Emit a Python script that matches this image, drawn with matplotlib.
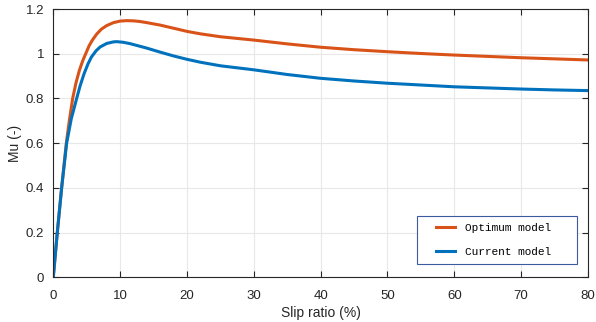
import matplotlib
matplotlib.use("Agg")
import matplotlib.pyplot as plt
from matplotlib.lines import Line2D
from matplotlib.legend_handler import HandlerLine2D
import numpy as np

# slip ratio (%) and friction coefficient
slip_opt = [0, 0.6, 1.25, 1.95, 2.4, 2.9, 3.4, 3.9, 4.4, 4.85, 5.35, 5.85, 6.5, 7.2, 8.0, 9.0,
            10.0, 11.0, 12.0, 13.0, 14.0, 16.0, 18.0, 20.0, 22.0, 25.0, 30.0, 35.0, 40.0, 45.0,
            50.0, 55.0, 60.0, 65.0, 70.0, 75.0, 80.0]
mu_opt = [0, 0.2, 0.4, 0.6, 0.7, 0.8, 0.87, 0.925, 0.968, 1.0, 1.035, 1.061, 1.088, 1.11, 1.126, 1.139,
          1.146, 1.148, 1.147, 1.144, 1.139, 1.128, 1.114, 1.10, 1.089, 1.076, 1.061, 1.044, 1.029, 1.018,
          1.009, 1.001, 0.994, 0.988, 0.982, 0.977, 0.972]

slip_cur = [0, 0.6, 1.25, 2.0, 2.7, 3.5, 4.0, 4.6, 5.2, 5.7, 6.4, 7.0, 8.0, 9.0, 9.5, 10.5, 11.5,
            12.5, 14.0, 16.0, 18.0, 20.0, 22.0, 25.0, 30.0, 35.0, 40.0, 45.0, 50.0, 55.0,
            60.0, 65.0, 70.0, 75.0, 80.0]
mu_cur = [0, 0.2, 0.4, 0.6, 0.71, 0.8, 0.855, 0.91, 0.955, 0.985, 1.013, 1.03, 1.046, 1.053, 1.054, 1.051, 1.045,
          1.037, 1.025, 1.007, 0.99, 0.975, 0.962, 0.946, 0.928, 0.907, 0.890, 0.878, 0.868, 0.86,
          0.852, 0.847, 0.842, 0.838, 0.835]

plt.rcParams['font.family'] = ['Liberation Sans', 'DejaVu Sans']

fig = plt.figure(figsize=(5.96, 3.22), dpi=100)
ax = fig.add_axes([0.0894, 0.139, 0.8972, 0.833])

ax.plot(slip_opt, mu_opt, color='#D95319', lw=2.2, label='Optimum model')
ax.plot(slip_cur, mu_cur, color='#0072BD', lw=2.2, label='Current model')

ax.set_xlim(0, 80)
ax.set_ylim(0, 1.2)
ax.set_xticks(np.arange(0, 81, 10))
ax.set_yticks([0, 0.2, 0.4, 0.6, 0.8, 1, 1.2])
ax.set_yticklabels(['0', '0.2', '0.4', '0.6', '0.8', '1', '1.2'])
ax.grid(True, color='#e8e8e8', lw=0.8)
ax.tick_params(direction='in', top=True, right=True, labelsize=9.5, colors='#262626', length=4)
ax.tick_params(axis='x', pad=9)
ax.tick_params(axis='y', pad=6.5)
for s in ax.spines.values():
    s.set_color('#262626')
    s.set_linewidth(0.8)

ax.set_xlabel('Slip ratio (%)', fontsize=10, color='#262626', labelpad=3)
ax.set_ylabel('Mu (-)', fontsize=10, color='#262626', labelpad=3)

leg = ax.legend(loc='lower left', bbox_to_anchor=(0.680, 0.0496, 0.299, 0.2), mode='expand',
                borderaxespad=0, prop={'family': 'Liberation Mono', 'size': 8},
                fancybox=False, framealpha=1, edgecolor='#3c5aa0',
                handlelength=2.8, borderpad=0.65, labelspacing=1.25, handletextpad=0.9,
                handler_map={Line2D: HandlerLine2D(xpad=1.08)})
leg.get_frame().set_linewidth(0.8)

fig.savefig('out.png', dpi=100)
